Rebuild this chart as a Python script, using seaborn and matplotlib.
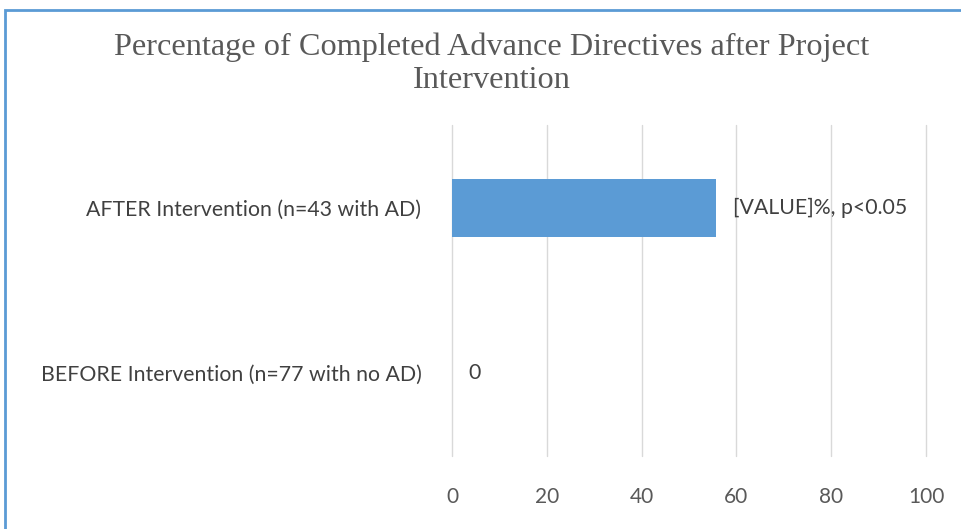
import matplotlib
matplotlib.use("Agg")
import matplotlib.pyplot as plt
import seaborn as sns
import pandas as pd
from matplotlib.patches import Rectangle

categories = ["AFTER Intervention (n=43 with AD)", "BEFORE Intervention (n=77 with no AD)"]
values = [55.8, 0]
bar_labels = ["[VALUE]%, p<0.05", "0"]
x_ticks = [0, 20, 40, 60, 80, 100]

df = pd.DataFrame({"group": categories, "pct": values})

sns.set_theme(style="white")
label_font = ["Lato", "DejaVu Sans"]
plt.rcParams["font.family"] = label_font

fig = plt.figure(figsize=(9.62, 5.29), dpi=100)
ax = fig.add_axes([452 / 962, 1 - 456 / 529, (926 - 452) / 962, (456 - 125) / 529])

sns.barplot(data=df, y="group", x="pct", orient="h", color="#5b9bd5",
            width=0.35, ax=ax, saturation=1, linewidth=0)

ax.set_xlim(0, 100)
ax.set_xticks(x_ticks)
ax.set_xticklabels([str(t) for t in x_ticks], fontsize=15, color="#595959")
ax.tick_params(axis="x", pad=22, length=0)
ax.tick_params(axis="y", length=0, pad=22, labelsize=15.3, labelcolor="#404040")
ax.grid(axis="x", color="#d9d9d9", linewidth=1)
for gl in ax.get_xgridlines():
    gl.set_clip_on(False)
ax.set_axisbelow(True)
for s in ax.spines.values():
    s.set_visible(False)
ax.set_xlabel("")
ax.set_ylabel("")

for i, (v, lab) in enumerate(zip(values, bar_labels)):
    ax.text(v + 3.5, i, lab, va="center", ha="left", fontsize=15.3, color="#404040")

title_font = ["Liberation Serif", "DejaVu Serif"]
fig.text(0.511, 1 - 47 / 529, "Percentage of Completed Advance Directives after Project",
         ha="center", va="center", fontsize=23.2, color="#595959", family=title_font)
fig.text(0.511, 1 - 80 / 529, "Intervention",
         ha="center", va="center", fontsize=23.2, color="#595959", family=title_font)

# outer chart frame
fig.patches.append(Rectangle((5 / 962, -0.05), 1.2, 1 - 10 / 529 + 0.05,
                             transform=fig.transFigure, fill=False,
                             edgecolor="#5b9bd5", linewidth=2))

fig.savefig("out.png", dpi=100)
